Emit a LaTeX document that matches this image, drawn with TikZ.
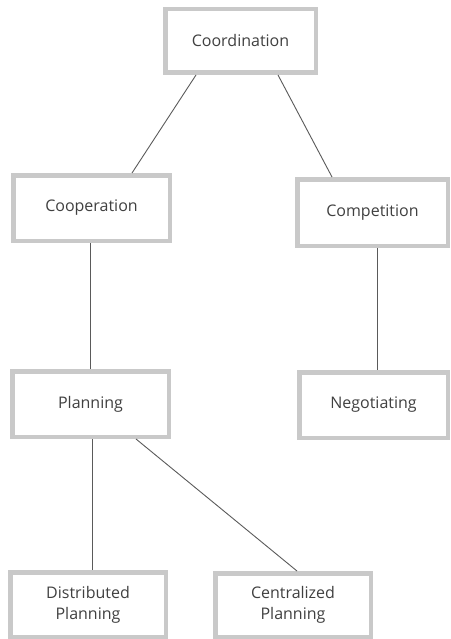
\documentclass[tikz,border=0pt]{standalone}
\usepackage{fontspec}
\setmainfont{Open Sans}
\begin{document}
\begin{tikzpicture}[x=1pt,y=-1pt,
  box/.style={draw=boxgray,line width=4.5pt,fill=white,align=center,
    text=txtgray,font=\fontsize{16}{21}\selectfont,inner sep=0pt},
  link/.style={draw=linegray,line width=0.9pt}]
\definecolor{boxgray}{HTML}{C9C9C9}
\definecolor{txtgray}{HTML}{404040}
\definecolor{linegray}{HTML}{5A5A5A}
\useasboundingbox (0,0) rectangle (450,639);

% tree of boxes (sizes given for the border centre line)
\node[box,minimum width=150.5pt,minimum height=63.5pt] (coord) at (240.5,41) {Coordination};
\node[box,minimum width=156.5pt,minimum height=65.5pt] (coop)  at (91.5,208) {Cooperation};
\node[box,minimum width=150.5pt,minimum height=66.5pt] (comp)  at (372.5,212.5) {Competition};
\node[box,minimum width=156.5pt,minimum height=65.5pt] (plan)  at (90.5,404) {Planning};
\node[box,minimum width=148.5pt,minimum height=65.5pt] (nego)  at (373.5,405) {Negotiating};
\node[box,minimum width=155.5pt,minimum height=64.5pt] (dist)  at (88,604.5) {Distributed\\Planning};
\node[box,minimum width=155.5pt,minimum height=63.5pt] (cent)  at (293,605) {Centralized\\Planning};

% connectors
\draw[link] ([xshift=-44.5pt]coord.south) -- ([xshift=40.5pt]coop.north);
\draw[link] ([xshift=37.5pt]coord.south) -- ([xshift=-40.5pt]comp.north);
\draw[link] ([xshift=-1.5pt]coop.south) -- ([xshift=-0.5pt]plan.north);
\draw[link] ([xshift=4.5pt]comp.south) -- ([xshift=3.5pt]nego.north);
\draw[link] ([xshift=1.5pt]plan.south) -- ([xshift=4pt]dist.north);
\draw[link] ([xshift=45.5pt]plan.south) -- ([xshift=4pt]cent.north);
\end{tikzpicture}
\end{document}
